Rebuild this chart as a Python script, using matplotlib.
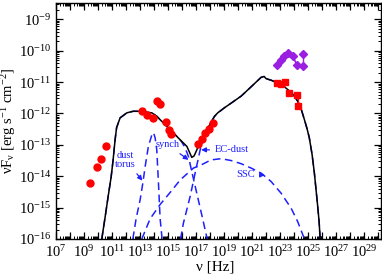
import numpy as np
import matplotlib
matplotlib.use("Agg")
import matplotlib.pyplot as plt
from matplotlib.ticker import FixedLocator, FuncFormatter, LogLocator, NullFormatter

plt.rcParams['font.family'] = ['Liberation Serif', 'DejaVu Serif']
plt.rcParams['mathtext.fontset'] = 'custom'
plt.rcParams['mathtext.rm'] = 'Liberation Serif'
plt.rcParams['mathtext.it'] = 'Liberation Serif'
plt.rcParams['mathtext.bf'] = 'Liberation Serif:bold'

# ----------------------------
# Data (log10 nu [Hz], log10 nuFnu [erg/s/cm2])
# ----------------------------

# radio / IR / optical / X-ray points
obs_lx = [9.43, 9.93, 10.18, 10.54, 13.12, 13.48, 13.91, 14.19, 14.43, 14.82, 15.04,
          15.18, 17.16, 17.41, 17.64, 17.95, 18.24]
obs_ly = [-14.23, -13.71, -13.45, -13.05, -11.93, -12.05, -12.14, -11.59, -11.69, -12.26,
          -12.52, -12.67, -12.97, -12.81, -12.61, -12.50, -12.30]

# gamma-ray points (red squares)
gam_lx = [22.76, 23.05, 23.38, 23.66, 24.24, 24.29]
gam_ly = [-11.03, -11.06, -11.01, -11.35, -11.40, -11.77]

# high state gamma-ray (purple)
hi_lx = [22.76, 23.07, 23.31, 23.59, 23.91, 24.21]
hi_ly = [-10.46, -10.28, -10.18, -10.07, -10.18, -10.46]
hi_ul_lx = [24.62, 24.62]
hi_ul_ly = [-10.10, -10.50]

# total model
tot_lx = [10.26, 10.5, 10.71, 10.93, 11.07, 11.21, 11.32, 11.57, 12.05, 12.5, 13.0, 13.43,
          13.84, 14.19, 14.5, 14.91, 15.21, 15.62, 15.93, 16.34, 16.54, 16.69, 16.86, 17.05,
          17.29, 17.59, 17.76, 18.0, 18.31, 18.57, 19.02, 19.57, 20.21, 20.93, 21.64, 21.86,
          22.0, 22.36, 22.84, 23.21, 23.55, 23.93, 24.26, 24.5, 24.74, 24.93, 25.09, 25.29,
          25.45, 25.57, 25.69, 25.79, 25.86]
tot_ly = [-16.0, -15.30, -14.66, -14.02, -13.48, -12.84, -12.45, -12.14, -11.98, -11.93,
          -11.93, -11.96, -11.98, -12.09, -12.23, -12.41, -12.55, -12.73, -12.87, -13.05,
          -13.25, -13.40, -13.35, -13.16, -12.90, -12.73, -12.57, -12.33, -12.09, -11.97,
          -11.82, -11.65, -11.45, -11.15, -10.85, -10.82, -10.89, -10.94, -11.03, -11.11,
          -11.24, -11.40, -11.61, -11.85, -12.20, -12.49, -12.78, -13.32, -13.90, -14.43,
          -14.97, -15.46, -15.98]

# model components
syn_lx = [10.26, 10.5, 10.71, 10.93, 11.07, 11.21, 11.32, 11.57, 12.05, 12.5, 13.0, 13.43,
          13.84, 14.19, 14.5, 14.91, 15.21, 15.62, 15.93, 16.2, 16.45, 16.71, 17.0, 17.29,
          17.5, 17.71, 17.79]
syn_ly = [-16.0, -15.30, -14.66, -14.02, -13.48, -12.84, -12.45, -12.14, -11.98, -11.93,
          -11.93, -11.96, -11.98, -12.09, -12.23, -12.41, -12.55, -12.73, -12.88, -13.08,
          -13.37, -13.89, -14.45, -15.01, -15.42, -15.84, -16.0]

dust_lx = [12.48, 12.71, 13.0, 13.2, 13.36, 13.59, 13.84, 13.95, 14.07, 14.19, 14.31, 14.43, 14.57]
dust_ly = [-16.0, -15.36, -14.75, -14.2, -13.69, -13.05, -12.68, -12.61, -12.77, -13.16,
           -14.22, -15.36, -16.0]

ec_lx = [15.89, 16.09, 16.57, 16.93, 17.29, 17.59, 17.76, 18.0, 18.31, 18.57, 19.02, 19.57,
         20.21, 20.93, 21.64, 21.86, 22.0, 22.36, 22.84, 23.21, 23.55, 23.93, 24.26, 24.5,
         24.74, 24.93, 25.09, 25.29, 25.45, 25.57, 25.69, 25.79, 25.86]
ec_ly = [-16.0, -15.50, -14.65, -13.90, -13.16, -12.75, -12.58, -12.34, -12.10, -11.98,
         -11.82, -11.65, -11.45, -11.15, -10.85, -10.82, -10.89, -10.94, -11.03, -11.11,
         -11.24, -11.40, -11.61, -11.85, -12.20, -12.49, -12.78, -13.32, -13.90, -14.43,
         -14.97, -15.46, -15.98]

ssc_lx = [13.12, 13.71, 14.43, 15.14, 15.86, 16.81, 17.36, 18.07, 18.79, 19.5, 20.21, 20.93,
          21.64, 22.36, 23.07, 23.79, 24.26, 24.74]
ssc_ly = [-16.0, -15.36, -14.90, -14.52, -14.12, -13.74, -13.64, -13.48, -13.44, -13.50,
          -13.60, -13.74, -13.90, -14.17, -14.54, -15.02, -15.45, -16.0]


def p(a):
    return 10.0 ** np.array(a)


# ----------------------------
# Plot
# ----------------------------

fig = plt.figure(figsize=(3.82, 2.75), dpi=100)
ax = fig.add_axes([0.147, 0.131, 0.85, 0.858])

blue = '#1f1fff'
dash = (0, (5, 3))
for lx, ly in [(syn_lx, syn_ly), (dust_lx, dust_ly), (ec_lx, ec_ly), (ssc_lx, ssc_ly)]:
    ax.plot(p(lx), p(ly), color=blue, lw=1.1, linestyle=dash)

ax.plot(p(tot_lx), p(tot_ly), color='black', lw=1.1)

ax.plot(p(obs_lx), p(obs_ly), 'o', color='red', ms=5, mec='red')

ax.errorbar(p(gam_lx), p(gam_ly),
            xerr=[p(gam_lx) - p(np.array(gam_lx) - 0.12), p(np.array(gam_lx) + 0.12) - p(gam_lx)],
            fmt='s', color='red', ms=3.8, lw=0.9, capsize=0)
ax.plot(p(gam_lx[-2:]), p([gam_ly[-2], gam_ly[-2]]), color='red', lw=0.9)
ax.plot(p([gam_lx[-1], gam_lx[-1]]), p([gam_ly[-2], gam_ly[-1]]), color='red', lw=0.9)

purple = '#9a1fe0'
ax.plot(p(hi_lx), p(hi_ly), 'D-', color=purple, ms=4.5, lw=1.2)
ax.plot(p(hi_ul_lx), p(hi_ul_ly), 'D-', color=purple, ms=4.5, lw=1.0)
ax.plot(p([hi_lx[-1], hi_ul_lx[-1]]), p([hi_ly[-1], hi_ul_ly[-1]]), color=purple, lw=1.0)

# annotations
akw = dict(arrowstyle='-|>', color=blue, lw=0.9, mutation_scale=7)
tkw = dict(color=blue, fontsize=7.5)
ax.annotate('dust\ntorus', xy=(10**13.29, 10**-14.21), xytext=(10**11.96, 10**-13.48),
            ha='center', va='center', arrowprops=akw, linespacing=1.0, **tkw)
ax.annotate('synch', xy=(10**16.62, 10**-13.53), xytext=(10**14.96, 10**-13.0),
            ha='center', va='center', arrowprops=akw, **tkw)
ax.annotate('EC-dust', xy=(10**17.16, 10**-13.16), xytext=(10**18.35, 10**-13.16),
            ha='left', va='center', arrowprops=akw, **tkw)
ax.annotate('SSC', xy=(10**22.12, 10**-13.96), xytext=(10**20.55, 10**-13.96),
            ha='center', va='center', arrowprops=akw, **tkw)

ax.set_xscale('log')
ax.set_yscale('log')
ax.set_xlim(1e7, 10**30.2)
ax.set_ylim(1e-16, 10**-8.48)

ax.xaxis.set_major_locator(FixedLocator([10.0 ** k for k in range(7, 31)]))
ax.xaxis.set_major_formatter(FuncFormatter(
    lambda v, pos: r'$10^{%d}$' % round(np.log10(v)) if round(np.log10(v)) % 2 == 1 else ''))
ax.xaxis.set_minor_locator(LogLocator(base=10, subs=np.arange(2, 10), numticks=50))
ax.xaxis.set_minor_formatter(NullFormatter())

ax.yaxis.set_major_locator(FixedLocator([10.0 ** k for k in range(-16, -8)]))
ax.yaxis.set_major_formatter(FuncFormatter(lambda v, pos: r'$10^{%d}$' % round(np.log10(v))))
ax.yaxis.set_minor_locator(LogLocator(base=10, subs=np.arange(2, 10), numticks=50))
ax.yaxis.set_minor_formatter(NullFormatter())

ax.tick_params(which='both', direction='in', top=True, right=True, labelsize=10.5)
ax.tick_params(which='major', length=5, width=0.9)
ax.tick_params(which='minor', length=2.5, width=0.7)
for s in ax.spines.values():
    s.set_linewidth(1.0)

ax.set_xlabel('ν [Hz]', fontsize=11)
ax.set_ylabel(r'νF$_{\nu}$ [erg s$^{-1}$ cm$^{-2}$]', fontsize=10.5)
ax.xaxis.set_label_coords(0.49, -0.093)
ax.yaxis.set_label_coords(-0.118, 0.5)

fig.savefig('out.png', dpi=100)
